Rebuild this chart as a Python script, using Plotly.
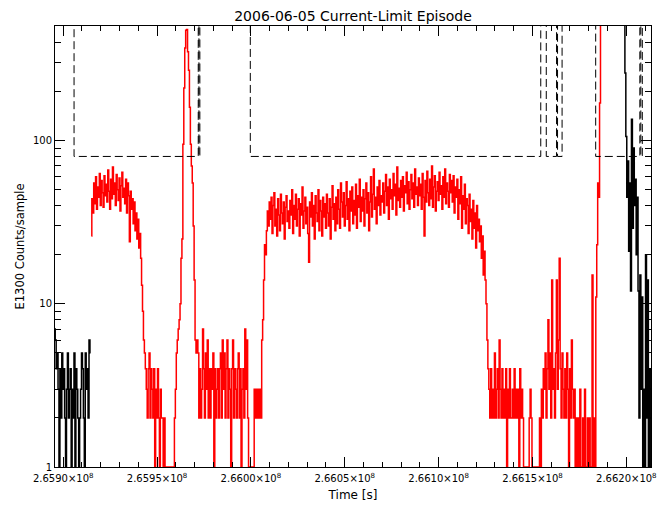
import numpy as np
import plotly.graph_objects as go

TITLE = "2006-06-05 Current-Limit Episode"
X_LABEL = "Time [s]"
Y_LABEL = "E1300 Counts/sample"

SAMPLE_DT = 500  # seconds between samples

# ---- black (left) counts ----
black_left_t0 = 265895500
black_left = [7, 6, 4, 5, 3, 1, 4, 2, 5, 3,
              4, 2, 1, 3, 5, 2, 3, 4, 1, 3,
              2, 5, 1, 4, 3, 2, 1, 2, 3, 5,
              4, 2, 1, 5, 3, 4, 2, 6, 5]

# ---- red counts (contiguous segments) ----
red_t0 = 265915000
red_a = [26, 44, 36, 55, 41, 60,
         38, 52, 45, 63, 40, 57, 48, 39, 61, 46,
         54, 42, 66, 49, 38, 58, 44, 69, 47, 55,
         40, 62, 50, 43, 59, 37, 53, 64, 45, 51,
         41, 58, 36, 55, 46,
         24, 49, 38, 44, 31,
         42, 28, 36, 25, 33,
         22, 27, 19, 13, 9,
         6, 5, 4]
red_b = [3, 2, 4, 5, 2, 4, 3, 2, 4, 1,
         3, 2, 4, 2, 1, 3, 2, 2, 1, 2,
         1, 1, 1, 1, 1, 1, 1, 1, 1, 1, 2]
red_c = [3, 5, 6, 7, 8, 10, 19, 25, 95, 210,
         370, 475, 480, 350, 270, 160, 95, 70, 55, 30,
         14, 6, 5]
red_d = [6,
         5, 2, 4, 2, 3, 7, 4, 2, 5,
         3, 6, 2, 4, 2, 4, 3, 5, 1, 4,
         2, 3, 4, 2, 4, 5, 2, 6, 3, 5,
         2, 4, 6, 2, 4, 3, 1, 4, 6, 2,
         4, 3, 2, 4, 5, 2, 4, 1, 3, 4,
         2, 7, 3, 6, 2,
         1, 1, 1, 1, 1,
         1, 3, 2, 3, 2, 3, 2, 3, 2]
red_e = [6, 8, 14, 23, 20, 28, 37, 30, 42,
         33, 45, 27, 40, 48, 30, 38, 26, 44, 35,
         28, 47, 36, 31, 42, 25, 39, 46, 32, 37,
         29, 43, 35, 50, 27, 40, 33, 47, 30, 38,
         44, 26, 41, 35, 52, 29, 37, 45, 31, 39,
         27, 18, 42, 34, 48, 30, 40, 25, 46, 36,
         32, 50, 28, 43, 37, 26, 45, 34, 41, 29,
         47, 36, 30, 44, 25, 39, 53, 33, 41, 28,
         45, 31, 50, 38, 29, 55, 42, 34, 48, 30,
         40, 56, 33, 44, 28, 49, 37, 52, 31, 43,
         35, 54, 29, 46, 39, 58, 32, 45, 37, 50,
         30, 44, 55, 36, 48, 28, 42, 60, 34, 47,
         67, 38, 45, 31, 52, 40, 57, 35, 46, 42,
         55, 36, 49, 62, 40, 52, 33, 58, 44, 50,
         38, 63, 46, 54, 35, 69, 43, 51, 39, 57,
         45, 60, 37, 53, 48, 64, 41, 56, 38, 50,
         62, 44, 55, 39, 67, 47, 52, 40, 59, 46,
         54, 38, 63, 45, 26, 57, 42, 65, 48, 40,
         58, 44, 70, 39, 52, 61, 37, 49, 56, 43,
         64, 47, 53, 38, 60, 45, 67, 41, 55, 49,
         39, 62, 48, 57, 42, 61, 36, 52, 45, 58,
         33, 50, 41, 60, 29, 46, 38, 54, 31, 44,
         40, 27, 47, 32, 38, 25, 43, 29, 36, 22,
         40, 28, 33, 24, 30, 19, 26, 15, 21, 14,
         10, 6, 4]
red_f = [3, 2, 4, 2, 3, 2, 5, 2, 3, 4,
         2, 6, 3, 2, 4, 2, 3, 2, 4, 1,
         3, 2, 4, 2, 2, 3, 2, 4, 2, 3,
         2, 3, 1, 4, 2, 3, 2, 1, 1, 1,
         1, 1, 1, 2, 3, 2, 1, 1, 1, 1,
         1, 1, 1, 1, 2, 1, 3, 2, 4, 3,
         5, 2, 4, 8, 3, 5, 2, 14, 3, 4,
         2, 5, 14, 3, 6, 19, 4, 2, 5, 3,
         2, 4, 2, 5, 3, 1, 4, 2, 6, 3,
         2, 3, 1, 2, 1, 2, 1, 3, 1, 1,
         2, 1, 3, 1, 1, 2, 1, 2, 1, 1,
         15, 1, 2, 1]
red_g = [11, 23, 55, 45, 170, 900]

# ---- black (right) counts ----
black_right_t0 = 266199000
black_right = [900, 260, 106, 45, 75, 21, 55, 12, 135, 29,
               90, 40, 58, 20, 45, 12, 2, 15, 3, 11,
               1, 3, 1, 20, 2, 14, 1, 4, 1]

# ---- current-limit status (dashed step line) ----
limit_times = [265895000, 265905789, 265971947, 265972300, 265972800,
               265999684, 266154421, 266157368, 266162842, 266163368,
               266165789, 266183684, 266207210, 266207737, 266208526,
               266214000]
limit_level = [1000, 80, 1000, 80, 1000,
               80, 1000, 80, 1000, 80,
               1000, 80, 1000, 80, 1000,
               1000]

# ---- axes ----
x_range = [265895632, 266213158]
x_tick_vals = [265900000, 265950000, 266000000, 266050000,
               266100000, 266150000, 266200000]
x_tick_text = ["2.6590×10<sup>8</sup>", "2.6595×10<sup>8</sup>",
               "2.6600×10<sup>8</sup>", "2.6605×10<sup>8</sup>",
               "2.6610×10<sup>8</sup>", "2.6615×10<sup>8</sup>",
               "2.6620×10<sup>8</sup>"]
y_tick_vals = [1, 10, 100]
y_tick_text = ["1", "10", "100"]
y_minor_vals = [2, 3, 4, 5, 6, 7, 8, 9, 20, 30, 40, 50, 60, 70, 80, 90,
                200, 300, 400, 500]
y_log_range = [0, 2.7025]

red = red_a + red_b + red_c + red_d + red_e + red_f + red_g


def times(t0, vals):
    return t0 + SAMPLE_DT * np.arange(len(vals))


FONT = "DejaVu Sans"
fig = go.Figure()
fig.add_trace(go.Scatter(x=times(black_left_t0, black_left), y=black_left,
                         mode="lines", line=dict(color="black", width=1.5, shape="hvh"),
                         showlegend=False))
fig.add_trace(go.Scatter(x=times(red_t0, red), y=red,
                         mode="lines", line=dict(color="#ff0000", width=1.5, shape="hvh"),
                         showlegend=False))
fig.add_trace(go.Scatter(x=times(black_right_t0, black_right), y=black_right,
                         mode="lines", line=dict(color="black", width=1.5, shape="hvh"),
                         showlegend=False))
fig.add_trace(go.Scatter(x=limit_times, y=limit_level,
                         mode="lines",
                         line=dict(color="black", width=1, shape="hv", dash="8px,4px"),
                         showlegend=False))

# The page body has an 8px default margin; the figure is sized to fit inside.
fig.update_layout(
    width=660, height=503,
    margin=dict(l=42, r=15, t=18, b=40),
    paper_bgcolor="white", plot_bgcolor="white",
    font=dict(family=FONT, color="black", size=10),
    title=dict(text=TITLE, x=0.5, xref="paper", xanchor="center",
               y=1 - 8.5 / 503, yref="container", yanchor="middle",
               font=dict(family=FONT, size=14, color="black")),
)
fig.update_xaxes(
    range=x_range, showgrid=False, zeroline=False,
    showline=True, linecolor="black", linewidth=1, mirror="ticks",
    ticks="inside", ticklen=10, tickcolor="black", tickwidth=1,
    tickmode="array", tickvals=x_tick_vals, ticktext=x_tick_text,
    tickfont=dict(size=10), ticklabelstandoff=2,
    minor=dict(ticks="inside", ticklen=5, tickcolor="black", tickwidth=1,
               dtick=10000, tick0=265900000, showgrid=False),
    title=dict(text=X_LABEL, standoff=7, font=dict(size=12)),
)
fig.update_yaxes(
    type="log", range=y_log_range, showgrid=False, zeroline=False,
    showline=True, linecolor="black", linewidth=1, mirror="ticks",
    ticks="inside", ticklen=10, tickcolor="black", tickwidth=1,
    tickmode="array", tickvals=y_tick_vals, ticktext=y_tick_text,
    tickfont=dict(size=10),
    minor=dict(ticks="inside", ticklen=6, tickcolor="black", tickwidth=1,
               tickmode="array", tickvals=y_minor_vals, showgrid=False),
    title=dict(text=Y_LABEL, standoff=5, font=dict(size=11.5)),
)

fig.write_html("out.html")
